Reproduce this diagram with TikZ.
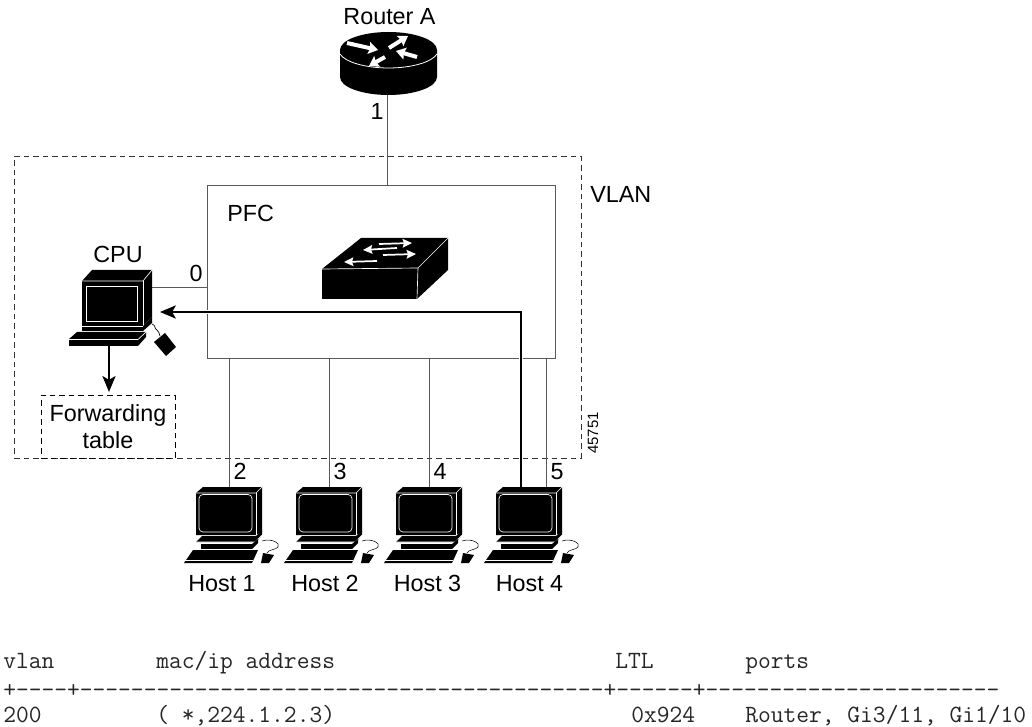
\documentclass[tikz,border=0pt]{standalone}
\usepackage{fontspec}
\setmainfont{Liberation Sans}
\usetikzlibrary{arrows.meta,calc}
\newcommand{\lblfont}{\fontsize{17.5}{20.5}\selectfont}
\newcommand{\codefont}{\ttfamily\fontsize{18.6}{20}\selectfont}
\tikzset{
  x=0.75pt,y=-0.75pt,
  lbl/.style={font=\lblfont,anchor=base,inner sep=0pt,text=black},
  lbll/.style={font=\lblfont,anchor=base west,inner sep=0pt,text=black},
  code/.style={font=\codefont,anchor=base west,inner sep=0pt,text=black!85},
  icon/.style={inner sep=0pt,draw=none},
  wire/.style={draw=black!65,line width=0.7pt},
  dashbox/.style={draw=black!80,line width=0.65pt,dash pattern=on 4.2pt off 3pt,inner sep=0pt},
  solidbox/.style={draw=black!65,line width=0.7pt,inner sep=0pt},
  flow/.style={draw=black,line width=0.8pt,-{Stealth[length=12pt,width=10pt,inset=3pt]}},
  halo/.style={draw=white,line width=3pt},
  wt/.style={draw=white,line width=0.5pt},
  warrow/.style={draw=white,line width=3pt,-{Stealth[length=7pt,width=9pt,inset=1pt]}},
  warrowthin/.style={draw=white,line width=1.3pt,-{Stealth[length=7pt,width=6.5pt,inset=1pt]}},
  hostpc/.pic={
    % coordinates relative to the top centre of the monitor (229,487)
    \fill[black] (-33,6) -- (-26,0) -- (33,0) -- (33,45) -- (27,48) -- (-33,48) -- cycle;
    \draw[wt] (-33,6) -- (27,6) -- (33,0);
    \draw[wt] (27,6) -- (27,48);
    \draw[white,line width=0.5pt,rounded corners=3pt] (-30,7.5) rectangle (23,45);
    % stand
    \fill[black] (-33,55) -- (-27,49) -- (27,49) -- (33,44) -- (33,48) -- (27,55) -- cycle;
    \draw[wt] (-33,55) -- (26,55) -- (33,48);
    \fill[black] (-28,57) rectangle (23,62);
    \fill[black] (23,57) -- (29,52) -- (29,56) -- (23,62) -- cycle;
    % keyboard
    \fill[black] (-45,76) -- (-36,63) -- (29,63) -- (23,76) -- cycle;
    \draw[wt] (-45,73) -- (24,73);
    % mouse and cord
    \fill[black] (34,66) -- (45,68) -- (40,76) -- (32,76) -- cycle;
    \draw[black,line width=0.4pt] (33,54) .. controls (42,51) and (52,56) .. (49,60) .. controls (47,63) and (40,62) .. (38,66);
  },
}
\begin{document}
\begin{tikzpicture}
\useasboundingbox (0,0) rectangle (1032,727);
\fill[white] (0,0) rectangle (1032,727);

% --- containers
\node[dashbox,minimum width=425.25pt,minimum height=226.5pt] (vlanbox) at (297.5,307) {};
\node[solidbox,fill=white,minimum width=261pt,minimum height=129.75pt] (pfc) at (381,271.5) {};
\node[dashbox,draw=black,minimum width=100.5pt,minimum height=47.25pt,font=\lblfont,align=center,text=black] (ftable) at (108,426.5) {Forwarding\\table};

% --- icon anchors
\node[icon,minimum width=73.5pt,minimum height=46.5pt] (router) at (387.5,64) {};
\node[icon,minimum width=94.5pt,minimum height=45.75pt] (switch) at (385,268.5) {};
\node[icon,minimum width=80.25pt,minimum height=64.5pt] (cpu) at (122.5,313) {};
\node[icon,minimum width=66pt,minimum height=57pt] (h1) at (229,525) {};
\node[icon,minimum width=66pt,minimum height=57pt] (h2) at (329,525) {};
\node[icon,minimum width=66pt,minimum height=57pt] (h3) at (429,525) {};
\node[icon,minimum width=66pt,minimum height=57pt] (h4) at (529,525) {};
\coordinate (cpuport) at (152,287);
\coordinate (cpuin) at (160,312);
\coordinate (cpukbd) at (109,346);
\coordinate (h4flow) at (521,487);
\coordinate (h4port) at (546,487);

% --- connectors
\draw[wire] (router.south) -- (router.south |- pfc.north);
\draw[wire] (cpuport) -- (cpuport -| pfc.west);
\draw[wire] (h1.north |- pfc.south) -- (h1.north);
\draw[wire] (h2.north |- pfc.south) -- (h2.north);
\draw[wire] (h3.north |- pfc.south) -- (h3.north);
\draw[wire] (h4port |- pfc.south) -- (h4port);
\draw[halo] (h4flow) ++(0,-4) |- ($(cpuin)+(20,0)$);
\draw[flow] (h4flow) |- (cpuin);
\draw[flow,shorten >=2pt] (cpukbd) -- (cpukbd |- ftable.north);

% --- router
\fill[black] (340,50) .. controls (340,40) and (362,32) .. (388.5,32)
  .. controls (415,32) and (437,40) .. (437,50) -- (437,77)
  .. controls (437,87) and (415,95) .. (388.5,95)
  .. controls (362,95) and (340,87) .. (340,77) -- cycle;
\draw[white,line width=0.6pt] (340,54) .. controls (345,62) and (365,68) .. (388.5,68)
  .. controls (412,68) and (432,62) .. (437,54);
\draw[warrow] (347,43) -- (378,50);
\draw[warrow] (389,48) -- (408,36);
\draw[warrow] (417,57) -- (396,51);
\draw[warrow] (385,57) -- (369,66);

% --- switch
\fill[black] (322,269) -- (361,238) -- (448,238) -- (448,270) -- (417,299) -- (322,299) -- cycle;
\draw[white,line width=0.5pt] (322,269) -- (418,268) -- (448,238);
\draw[white,line width=0.5pt] (418,268) -- (417,299);
\draw[warrowthin] (379,244) -- (412,243);
\draw[warrowthin] (397,248) -- (363,250);
\draw[warrowthin] (383,255) -- (416,254);
\draw[warrowthin] (377,261) -- (344,262);

% --- CPU
\fill[black] (82,281) -- (92,270) -- (152,270) -- (152,317) -- (143,326) -- (82,326) -- cycle;
\draw[white,line width=0.5pt] (82,281) -- (143,281) -- (152,270);
\draw[white,line width=0.5pt] (143,281) -- (143,326);
\draw[white,line width=0.6pt] (86,286) rectangle (137,321);
\fill[black] (82,327) rectangle (143,331);
\fill[black] (143,331) -- (152,323) -- (152,317) -- (143,326) -- cycle;
\fill[black] (69,339) -- (77,332) -- (146,332) -- (146,337) -- (138,346) -- (69,346) -- cycle;
\draw[white,line width=0.5pt] (69,339.5) -- (138,339.5) -- (146,332);
\fill[black] (165,333) -- (176,347) -- (166,356) -- (154,342) -- cycle;
\draw[black,line width=0.5pt] (152,324) .. controls (156,325) and (154,329) .. (157,330) .. controls (160,331) and (158,334) .. (160,336);

% --- hosts
\path (229,487) pic {hostpc};
\path (329,487) pic {hostpc};
\path (429,487) pic {hostpc};
\path (529,487) pic {hostpc};

% --- labels
\node[lbl] (lrouter) at (389.5,24.5) {Router A};
\node[lbl] (lone) at (377,120) {1};
\node[lbll] (lvlan) at (590,203) {VLAN};
\node[lbll] (lpfc) at (227,222) {PFC};
\node[lbl] (lcpu) at (118,263) {CPU};
\node[lbl] (lzero) at (196,282) {0};
\node[lbl] (ltwo) at (240,479.5) {2};
\node[lbl] (lthree) at (340,479.5) {3};
\node[lbl] (lfour) at (440,479.5) {4};
\node[lbl] (lfive) at (557,479.5) {5};
\node[lbl] (lh1) at (222,591.5) {Host 1};
\node[lbl] (lh2) at (325,591.5) {Host 2};
\node[lbl] (lh3) at (427.5,591.5) {Host 3};
\node[lbl] (lh4) at (529.5,591.5) {Host 4};
\node[font=\fontsize{11.2}{12}\selectfont,rotate=90,inner sep=0pt,text=black] (lnum) at (593,433) {45751};

% --- table (12.75 px per column)
\node[code] (tvlan) at (3,668) {vlan};
\node[code] (tmac) at (156,668) {mac/ip address};
\node[code] (tltl) at (615,668) {LTL};
\node[code] (tports) at (745,668) {ports};
\node[code] (trule) at (3,697) {+{-}{-}{-}{-}+{-}{-}{-}{-}{-}{-}{-}{-}{-}{-}{-}{-}{-}{-}{-}{-}{-}{-}{-}{-}{-}{-}{-}{-}{-}{-}{-}{-}{-}{-}{-}{-}{-}{-}{-}{-}{-}{-}{-}{-}{-}+{-}{-}{-}{-}{-}{-}+{-}{-}{-}{-}{-}{-}{-}{-}{-}{-}{-}{-}{-}{-}{-}{-}{-}{-}{-}{-}{-}{-}{-}};
\node[code] (tid) at (3,722) {200};
\node[code] (taddr) at (156,722) {( *,224.1.2.3)};
\node[code] (tval) at (631,722) {0x924};
\node[code] (tlist) at (745,722) {Router, Gi3/11, Gi1/10};
\end{tikzpicture}
\end{document}
